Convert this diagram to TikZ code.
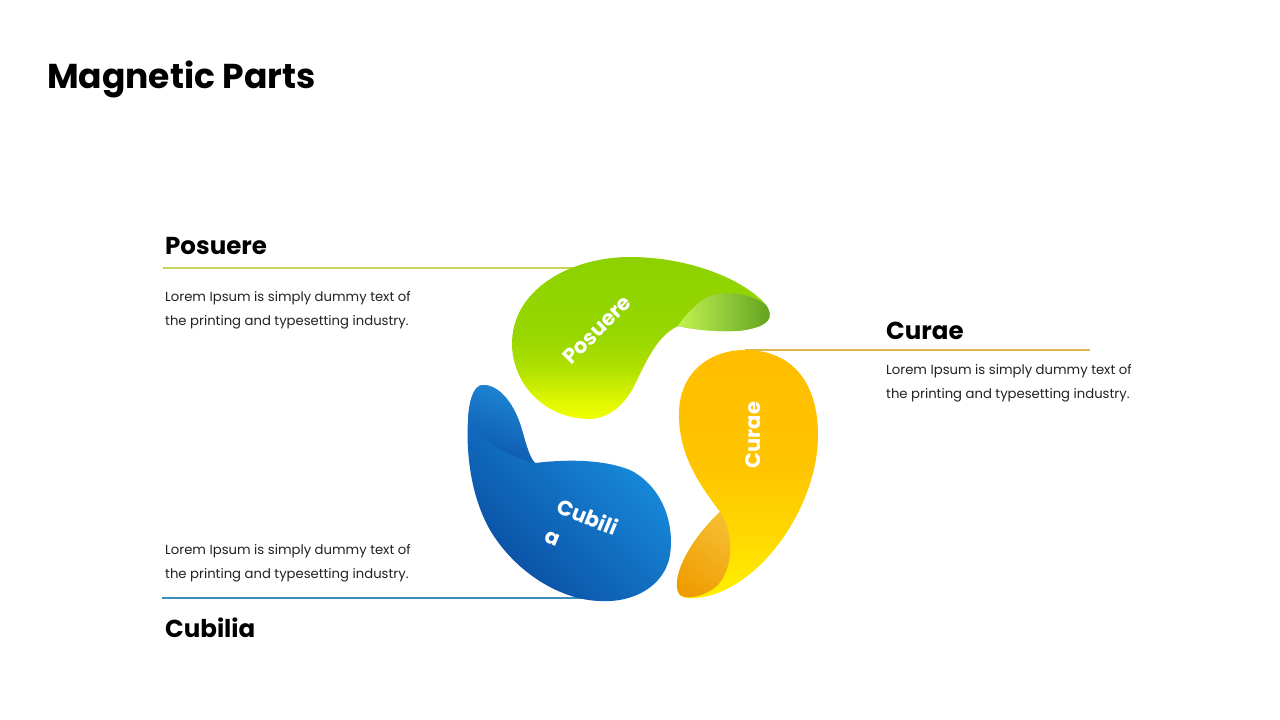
\documentclass[tikz,border=0pt]{standalone}
\usepackage{fontspec}
\setmainfont{Poppins}
\definecolor{gFoldL}{HTML}{C2F252}
\definecolor{gFoldR}{HTML}{5E9E1E}
\definecolor{oDark}{HTML}{EE9C00}
\definecolor{oLight}{HTML}{F6BC30}
\definecolor{bLight}{HTML}{1A96E6}
\definecolor{bDark}{HTML}{0A4DA2}
\definecolor{bFoldA}{HTML}{1E86D6}
\definecolor{bFoldB}{HTML}{0D58AC}
\definecolor{lineG}{HTML}{C8D45A}
\definecolor{lineY}{HTML}{DDB848}
\definecolor{lineB}{HTML}{3D8EBC}
\definecolor{bodytext}{HTML}{222222}
\pgfdeclareverticalshading{greenshade}{100bp}{%
  color(0bp)=(rgb,255:red,242;green,255;blue,0);
  color(25bp)=(rgb,255:red,242;green,255;blue,0);
  color(31bp)=(rgb,255:red,222;green,246;blue,0);
  color(40bp)=(rgb,255:red,178;green,226;blue,0);
  color(50bp)=(rgb,255:red,152;green,215;blue,0);
  color(75bp)=(rgb,255:red,140;green,210;blue,0);
  color(100bp)=(rgb,255:red,140;green,210;blue,0)}
\pgfdeclareverticalshading{yellowshade}{100bp}{%
  color(0bp)=(rgb,255:red,255;green,242;blue,0);
  color(25bp)=(rgb,255:red,255;green,242;blue,0);
  color(38bp)=(rgb,255:red,255;green,216;blue,0);
  color(52bp)=(rgb,255:red,255;green,196;blue,0);
  color(75bp)=(rgb,255:red,255;green,190;blue,0);
  color(100bp)=(rgb,255:red,255;green,190;blue,0)}
\tikzset{
  titletext/.style={anchor=base west, inner sep=0pt, font=\fontsize{34.5}{40}\selectfont\bfseries},
  headtext/.style={anchor=base west, inner sep=0pt, font=\fontsize{24.5}{30}\selectfont\bfseries},
  bodyline/.style={anchor=base west, inner sep=0pt, text=bodytext, font=\fontsize{13.2}{16}\selectfont},
  shapetext/.style={inner sep=0pt, text=white, font=\fontsize{21}{31}\selectfont\bfseries},
  rule/.style={line width=1.3pt}
}
\begin{document}
\begin{tikzpicture}[x=1pt,y=-1pt]
\useasboundingbox (0,0) rectangle (1280,720);
\fill[white] (0,0) rectangle (1280,720);

% title
\node[titletext] (title) at (47,88) {Magnetic Parts};

% connector lines (drawn behind shapes)
\coordinate (lgA) at (163,268);
\coordinate (lgB) at (600,268);
\coordinate (lyA) at (745,350);
\coordinate (lyB) at (1090,350);
\coordinate (lbA) at (162,598);
\coordinate (lbB) at (605,598);
\draw[rule, lineG] (lgA) -- (lgB);
\draw[rule, lineY] (lyA) -- (lyB);
\draw[rule, lineB] (lbA) -- (lbB);

% green shape (Posuere)
\shade[shading=greenshade]
  (588,419) .. controls (545,418) and (513,385) .. (512,345)
  .. controls (511,290) and (570,257) .. (630,257)
  .. controls (690,257) and (745,280) .. (766,305)
  .. controls (775,318) and (768,326) .. (745,330)
  .. controls (725,333) and (695,330) .. (678,326)
  .. controls (655,337) and (645,365) .. (632,390)
  .. controls (620,410) and (605,419) .. (588,419) -- cycle;
\shade[left color=gFoldL, right color=gFoldR]
  (678,326) .. controls (695,330) and (725,333) .. (745,330)
  .. controls (768,326) and (775,318) .. (766,305)
  .. controls (750,292) and (715,288) .. (700,302)
  .. controls (690,310) and (683,318) .. (678,326) -- cycle;

% yellow shape (Curae)
\shade[shading=yellowshade]
  (745,350) .. controls (790,350) and (818,380) .. (818,435)
  .. controls (818,500) and (770,575) .. (715,594)
  .. controls (695,600) and (680,600) .. (678,592)
  .. controls (672,575) and (690,540) .. (720,512)
  .. controls (700,485) and (678,455) .. (679,412)
  .. controls (680,372) and (710,350) .. (745,350) -- cycle;
\shade[top color=oLight, bottom color=oDark, shading angle=-40]
  (720,512) .. controls (733,530) and (735,565) .. (718,585)
  .. controls (705,597) and (682,602) .. (678,592)
  .. controls (672,575) and (690,540) .. (720,512) -- cycle;

% blue shape (Cubilia)
\shade[top color=bLight, bottom color=bDark, shading angle=-45]
  (483,385) .. controls (500,385) and (515,405) .. (522,430)
  .. controls (527,448) and (530,458) .. (535,463)
  .. controls (560,460) and (600,458) .. (630,470)
  .. controls (660,485) and (675,520) .. (670,555)
  .. controls (665,585) and (635,603) .. (600,601)
  .. controls (560,600) and (515,572) .. (490,530)
  .. controls (470,495) and (466,450) .. (468,420)
  .. controls (469,400) and (474,385) .. (483,385) -- cycle;
\shade[top color=bFoldA, bottom color=bFoldB, shading angle=-20]
  (483,385) .. controls (500,385) and (515,405) .. (522,430)
  .. controls (527,448) and (530,458) .. (535,463)
  .. controls (515,458) and (490,448) .. (468,420)
  .. controls (469,400) and (474,385) .. (483,385) -- cycle;

% texts inside shapes
\node[shapetext, rotate=45] (sPos) at (597,330) {Posuere};
\node[shapetext, rotate=90] (sCur) at (753,435) {Curae};
\node[shapetext, rotate=-22, align=left] (sCub) at (582,531) {Cubili\\a};

% Posuere block
\node[headtext] (hPos) at (165,254) {Posuere};
\node[bodyline] (bPos1) at (165,301) {Lorem Ipsum is simply dummy text of};
\node[bodyline] (bPos2) at (165,325) {the printing and typesetting industry.};

% Curae block
\node[headtext] (hCur) at (886,339) {Curae};
\node[bodyline] (bCur1) at (886,374) {Lorem Ipsum is simply dummy text of};
\node[bodyline] (bCur2) at (886,398) {the printing and typesetting industry.};

% Cubilia block
\node[bodyline] (bCub1) at (165,554) {Lorem Ipsum is simply dummy text of};
\node[bodyline] (bCub2) at (165,578) {the printing and typesetting industry.};
\node[headtext] (hCub) at (165,637) {Cubilia};
\end{tikzpicture}
\end{document}
